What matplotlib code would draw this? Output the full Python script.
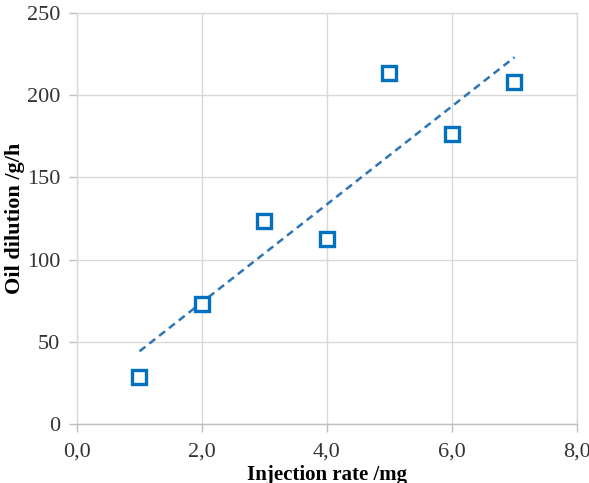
import matplotlib.pyplot as plt
import numpy as np

# values
injection = [1, 2, 3, 4, 5, 6, 7]
dilution = [28.6, 73.0, 123.7, 112.3, 213.5, 176.4, 208.0]
xticks = [0, 2, 4, 6, 8]
xlabels = ['0,0', '2,0', '4,0', '6,0', '8,0']
yticks = [0, 50, 100, 150, 200, 250]

plt.rcParams['font.family'] = ['Liberation Serif', 'DejaVu Serif']

fig = plt.figure(figsize=(5.89, 4.83), dpi=100)
ax = fig.add_axes([0.1307, 0.1222, 0.8489, 0.8509])

# linear trendline
k, b = np.polyfit(injection, dilution, 1)
xs = np.array([injection[0], injection[-1]])
ax.plot(xs, k * xs + b, linestyle=(0, (3, 2)), color='#2E75B6', linewidth=1.8, zorder=3)

ax.plot(injection, dilution, linestyle='none', marker='s', markersize=10.5,
        markerfacecolor='white', markeredgecolor='#0070C0', markeredgewidth=2.4, zorder=4)

ax.set_xlim(0, 8)
ax.set_ylim(0, 250)
ax.set_xticks(xticks)
ax.set_xticklabels(xlabels)
ax.set_yticks(yticks)
ax.tick_params(labelsize=16, colors='#333333', length=6, width=1, color='#bfbfbf')
ax.tick_params(axis='x', pad=7.5)
ax.tick_params(axis='y', pad=6)
ax.grid(True, color='#d9d9d9', linewidth=1)
ax.set_axisbelow(True)
for s in ax.spines.values():
    s.set_color('#d9d9d9')
    s.set_linewidth(1)
ax.spines['bottom'].set_color('#bfbfbf')

ax.set_xlabel('Injection rate /mg', fontsize=15, fontweight='bold', labelpad=2)
ax.set_ylabel('Oil dilution /g/h', fontsize=16, fontweight='bold', labelpad=1.5)

fig.savefig('out.png', dpi=100)
